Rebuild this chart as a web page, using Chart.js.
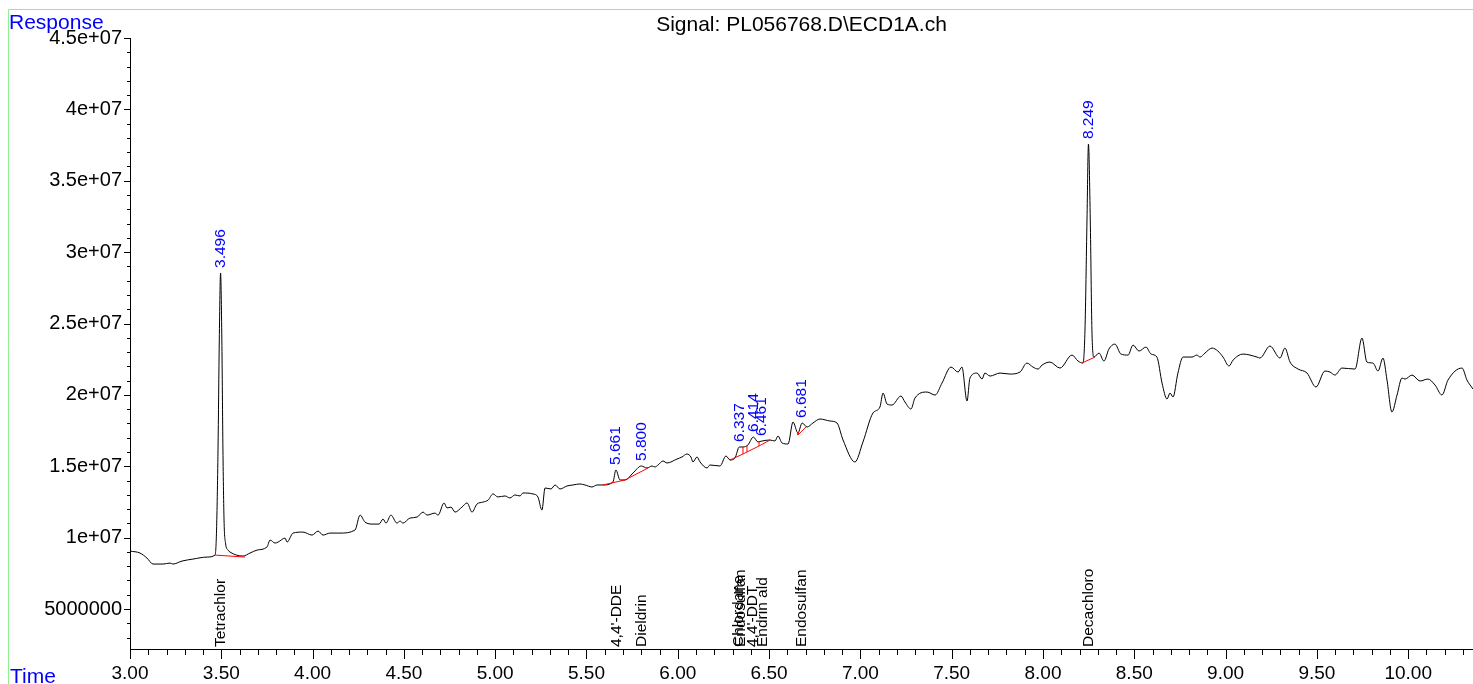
<!DOCTYPE html>
<html>
<head>
<meta charset="utf-8">
<title>Signal: PL056768.D\ECD1A.ch</title>
<script src="https://cdn.jsdelivr.net/npm/chart.js@4.4.1/dist/chart.umd.min.js"></script>
<style>
  html, body { margin: 0; padding: 0; background: #fff; }
  #wrap { width: 1473px; height: 684px; position: relative; }
</style>
</head>
<body>
<div id="wrap"><canvas id="chrom"></canvas></div>
<script>
const FONT = "'Liberation Sans', Arial, sans-serif";

// retention time (min) and detector response (x 1e6)
const times = [
  3.000, 3.055, 3.093, 3.126, 3.181, 3.219, 3.235, 3.285, 3.345, 3.422,
  3.466, 3.474, 3.482, 3.489, 3.496, 3.503, 3.509, 3.515, 3.523, 3.537,
  3.548, 3.619, 3.657, 3.696, 3.750, 3.767, 3.794, 3.811, 3.849, 3.860,
  3.893, 3.947, 3.997, 4.030, 4.057, 4.095, 4.150, 4.232, 4.260, 4.287,
  4.331, 4.364, 4.386, 4.402, 4.429, 4.462, 4.479, 4.495, 4.533, 4.572,
  4.605, 4.627, 4.670, 4.687, 4.720, 4.736, 4.758, 4.780, 4.818, 4.846,
  4.873, 4.900, 4.933, 4.961, 4.988, 5.015, 5.054, 5.081, 5.108, 5.136,
  5.152, 5.207, 5.234, 5.256, 5.273, 5.306, 5.328, 5.355, 5.393, 5.426,
  5.464, 5.492, 5.530, 5.558, 5.590, 5.645, 5.661, 5.684, 5.711, 5.755,
  5.800, 5.831, 5.859, 5.875, 5.892, 5.919, 5.941, 5.996, 6.023, 6.050,
  6.072, 6.083, 6.105, 6.122, 6.160, 6.176, 6.231, 6.264, 6.286, 6.313,
  6.337, 6.357, 6.384, 6.414, 6.439, 6.461, 6.505, 6.532, 6.549, 6.571,
  6.604, 6.631, 6.658, 6.681, 6.708, 6.740, 6.779, 6.834, 6.872, 6.905,
  6.970, 7.014, 7.069, 7.107, 7.124, 7.146, 7.173, 7.222, 7.244, 7.277,
  7.299, 7.365, 7.409, 7.447, 7.496, 7.535, 7.556, 7.584, 7.600, 7.639,
  7.666, 7.682, 7.710, 7.765, 7.819, 7.874, 7.912, 7.945, 7.973, 7.995,
  8.038, 8.093, 8.159, 8.192, 8.219, 8.230, 8.241, 8.249, 8.259, 8.268,
  8.279, 8.307, 8.334, 8.361, 8.394, 8.427, 8.466, 8.493, 8.526, 8.564,
  8.592, 8.624, 8.652, 8.679, 8.696, 8.712, 8.739, 8.767, 8.816, 8.843,
  8.860, 8.887, 8.926, 8.958, 8.986, 9.019, 9.041, 9.095, 9.172, 9.188,
  9.243, 9.298, 9.325, 9.353, 9.397, 9.446, 9.495, 9.544, 9.572, 9.599,
  9.637, 9.709, 9.747, 9.774, 9.807, 9.835, 9.862, 9.884, 9.911, 9.939,
  9.966, 9.983, 10.021, 10.065, 10.108, 10.147, 10.185, 10.218, 10.295, 10.322,
  10.355
];
const response = [
  9.06, 8.92, 8.57, 8.15, 8.15, 8.22, 8.15, 8.36, 8.50, 8.64,
  8.78, 10.53, 16.14, 23.84, 28.54, 23.84, 16.14, 11.23, 9.62, 9.13,
  8.99, 8.71, 8.92, 9.13, 9.34, 9.83, 9.62, 9.69, 9.97, 9.69,
  10.32, 10.39, 10.18, 10.46, 10.18, 10.32, 10.32, 10.53, 11.58, 11.09,
  10.95, 10.95, 11.30, 11.02, 11.58, 11.02, 11.16, 11.02, 11.37, 11.44,
  11.79, 11.58, 11.72, 11.58, 12.43, 12.08, 12.14, 11.79, 12.14, 12.43,
  11.79, 12.35, 12.49, 12.63, 13.06, 12.85, 12.92, 12.78, 12.99, 12.92,
  13.13, 13.06, 12.85, 11.93, 13.48, 13.41, 13.69, 13.41, 13.62, 13.69,
  13.76, 13.69, 13.55, 13.69, 13.69, 13.90, 14.74, 14.04, 14.04, 14.53,
  15.02, 14.88, 15.02, 14.95, 15.09, 15.37, 15.23, 15.51, 15.65, 15.86,
  15.65, 15.30, 15.65, 15.30, 14.88, 15.09, 15.02, 15.72, 15.44, 15.58,
  16.35, 16.35, 16.49, 17.05, 16.70, 16.77, 16.84, 16.77, 17.12, 16.63,
  16.56, 18.10, 17.33, 18.03, 17.75, 18.03, 18.31, 18.17, 18.03, 16.84,
  15.30, 16.70, 18.73, 19.15, 20.13, 19.36, 19.29, 19.92, 19.50, 19.01,
  19.78, 20.20, 19.99, 20.83, 21.95, 21.60, 21.95, 19.57, 21.18, 21.53,
  21.11, 21.53, 21.32, 21.53, 21.46, 21.60, 22.23, 21.95, 21.81, 22.09,
  22.30, 21.88, 22.79, 22.37, 22.23, 24.54, 32.25, 37.57, 32.25, 24.54,
  22.65, 22.93, 22.37, 23.21, 23.56, 22.86, 22.79, 23.49, 23.07, 23.35,
  22.86, 22.65, 20.83, 19.71, 20.13, 19.85, 21.53, 22.65, 22.65, 22.79,
  22.65, 22.93, 23.28, 23.07, 22.65, 22.02, 22.44, 22.86, 22.65, 22.58,
  23.42, 22.58, 23.28, 22.30, 21.81, 21.53, 20.55, 21.67, 21.60, 21.39,
  21.88, 21.81, 23.98, 22.30, 22.23, 21.67, 22.58, 21.04, 18.80, 19.99,
  21.18, 21.11, 21.39, 20.97, 21.11, 20.69, 19.99, 21.04, 21.88, 21.04,
  20.41
];

// integrated peaks: retention time and apex height (x 1e6)
const peakTimes = [3.496, 5.661, 5.800, 6.337, 6.414, 6.461, 6.681, 8.249];
const peakApex  = [28.54, 14.74, 15.02, 16.35, 17.05, 16.77, 18.03, 37.57];

// integration baselines and drop lines, null breaks the red line
const baseTimes  = [3.466, 3.630, null, 5.590, 5.711, 5.837, null,
                    6.286, 6.357, 6.379, 6.445, 6.505, null,
                    6.357, 6.357, null, 6.379, 6.379, null, 6.445, 6.445, null,
                    6.658, 6.658, 6.702, null, 8.213, 8.285];
const baseValues = [8.78, 8.64, null, 13.69, 14.04, 14.88, null,
                    15.44, 15.86, 16.00, 16.42, 16.84, null,
                    15.86, 16.35, null, 16.00, 16.49, null, 16.42, 16.70, null,
                    17.40, 17.19, 17.75, null, 22.23, 22.65];

// compound names from the method at their expected times
const compounds = ['Tetrachlor', "4,4'-DDE", 'Dieldrin', 'Chlordane', 'Endosulfan',
                   "4,4'-DDT", 'Endrin ald', 'Endosulfan', 'Decachloro'];
const compoundTimes = [3.498, 5.665, 5.800, 6.336, 6.342, 6.410, 6.466, 6.680, 8.250];

const xTickValues = [3.0, 3.5, 4.0, 4.5, 5.0, 5.5, 6.0, 6.5, 7.0, 7.5, 8.0, 8.5, 9.0, 9.5, 10.0];
const xTickLabels = ['3.00', '3.50', '4.00', '4.50', '5.00', '5.50', '6.00', '6.50',
                     '7.00', '7.50', '8.00', '8.50', '9.00', '9.50', '10.00'];
const yTickValues = [5e6, 1e7, 1.5e7, 2e7, 2.5e7, 3e7, 3.5e7, 4e7, 4.5e7];
const yTickLabels = ['5000000', '1e+07', '1.5e+07', '2e+07', '2.5e+07',
                     '3e+07', '3.5e+07', '4e+07', '4.5e+07'];

const signalPoints = times.map((t, i) => ({ x: t, y: response[i] * 1e6 }));
const basePoints = baseTimes.map((t, i) => ({ x: t, y: baseValues[i] === null ? null : baseValues[i] * 1e6 }));

// frame, minor ticks and all the rotated annotations
const decorations = {
  id: 'decorations',
  beforeDraw(chart) {
    const ctx = chart.ctx;
    ctx.save();
    ctx.strokeStyle = '#8fee8f';
    ctx.lineWidth = 1;
    ctx.beginPath();
    ctx.moveTo(8.5, 684);
    ctx.lineTo(8.5, 9.5);
    ctx.lineTo(1473, 9.5);
    ctx.stroke();
    ctx.restore();
  },
  afterDraw(chart) {
    const { ctx, chartArea, scales } = chart;
    const x = scales.x, y = scales.y;
    ctx.save();

    // tick marks, long ones on the labelled values
    ctx.strokeStyle = '#000';
    ctx.lineWidth = 1;
    ctx.beginPath();
    for (let k = 30; k <= 103; k++) {
      const px = Math.round(x.getPixelForValue(k / 10)) + 0.5;
      const len = k % 5 === 0 ? 10 : 6;
      ctx.moveTo(px, chartArea.bottom);
      ctx.lineTo(px, chartArea.bottom + len);
    }
    for (let m = 3; m <= 45; m++) {
      const py = Math.round(y.getPixelForValue(m * 1e6)) + 0.5;
      const len = m % 5 === 0 ? 6 : 3;
      ctx.moveTo(chartArea.left - len, py);
      ctx.lineTo(chartArea.left, py);
    }
    ctx.stroke();

    // title and axis captions
    ctx.fillStyle = '#000';
    ctx.font = '21px ' + FONT;
    ctx.textAlign = 'center';
    ctx.textBaseline = 'alphabetic';
    ctx.fillText('Signal: PL056768.D\\ECD1A.ch', (chartArea.left + chartArea.right) / 2, 31);

    ctx.fillStyle = '#0000ff';
    ctx.textAlign = 'left';
    ctx.fillText('Response', 9, 29);
    ctx.fillText('Time', 10, 683);

    // retention times over the peaks
    ctx.font = '15.5px ' + FONT;
    ctx.textBaseline = 'middle';
    peakTimes.forEach((t, i) => {
      const px = x.getPixelForValue(t);
      const py = y.getPixelForValue(peakApex[i] * 1e6) - 5;
      ctx.save();
      ctx.translate(px, py);
      ctx.rotate(-Math.PI / 2);
      ctx.fillText(t.toFixed(3), 0, 0);
      ctx.restore();
    });

    // compound names along the time axis
    ctx.fillStyle = '#000';
    compounds.forEach((name, i) => {
      const px = x.getPixelForValue(compoundTimes[i]);
      ctx.save();
      ctx.translate(px, chartArea.bottom - 2);
      ctx.rotate(-Math.PI / 2);
      ctx.fillText(name, 0, 0);
      ctx.restore();
    });

    ctx.restore();
  }
};

new Chart(document.getElementById('chrom'), {
  type: 'line',
  data: {
    datasets: [{
      label: 'baseline',
      data: basePoints,
      borderColor: '#ff0000',
      borderWidth: 1,
      pointRadius: 0,
      tension: 0,
      spanGaps: false
    }, {
      label: 'ECD1A',
      data: signalPoints,
      borderColor: '#000',
      borderWidth: 1,
      borderJoinStyle: 'round',
      pointRadius: 0,
      cubicInterpolationMode: 'monotone'
    }]
  },
  options: {
    responsive: true,
    maintainAspectRatio: false,
    animation: false,
    layout: { padding: { top: 38, left: 0, right: 0, bottom: 0 } },
    plugins: {
      legend: { display: false },
      tooltip: { enabled: false },
      title: { display: false }
    },
    scales: {
      x: {
        type: 'linear',
        position: 'bottom',
        min: 3,
        max: 10.355,
        grid: { display: false, drawTicks: false },
        border: { display: true, color: '#000', width: 1 },
        afterBuildTicks: s => { s.ticks = xTickValues.map(v => ({ value: v })); },
        afterFit: s => { s.height = 35; },
        ticks: {
          autoSkip: false,
          maxRotation: 0,
          padding: 13,
          color: '#000',
          font: { family: FONT, size: 19 },
          callback: (v, i) => xTickLabels[i]
        }
      },
      y: {
        type: 'linear',
        position: 'left',
        min: 2.2e6,
        max: 4.5e7,
        grid: { display: false, drawTicks: false },
        border: { display: true, color: '#000', width: 1 },
        afterBuildTicks: s => { s.ticks = yTickValues.map(v => ({ value: v })); },
        afterFit: s => { s.width = 130; },
        ticks: {
          autoSkip: false,
          padding: 8,
          color: '#000',
          font: { family: FONT, size: 20 },
          callback: (v, i) => yTickLabels[i]
        }
      }
    }
  },
  plugins: [decorations]
});
</script>
</body>
</html>
